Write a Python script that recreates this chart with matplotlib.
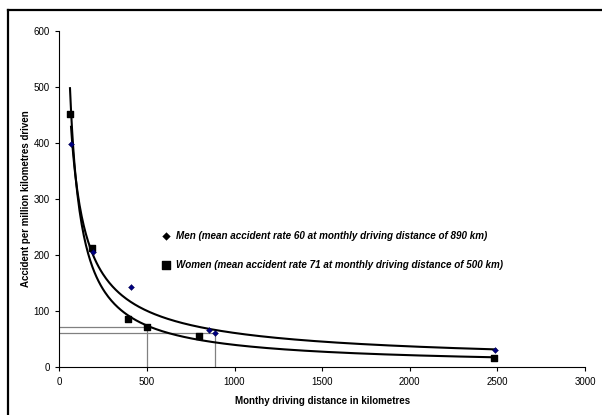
import numpy as np
import matplotlib
matplotlib.use("Agg")
import matplotlib.pyplot as plt
from matplotlib.lines import Line2D

plt.rcParams['font.family'] = ['Liberation Sans', 'DejaVu Sans']

# Monthly driving distance (km) and accident rate per million km driven
men_km = [67, 190, 407, 854, 890, 2489]
men_rate = [397, 205, 143, 65.5, 60, 31]
women_km = [61, 187, 394, 500, 799, 2481]
women_rate = [451, 212, 85, 71, 55, 16]

# Group means: (distance, rate)
men_mean = (890, 60)
women_mean = (500, 71)

men_label = "Men (mean accident rate 60 at monthly driving distance of 890 km)"
women_label = "Women (mean accident rate 71 at monthly driving distance of 500 km)"

x_ticks = [0, 500, 1000, 1500, 2000, 2500, 3000]
y_ticks = [0, 100, 200, 300, 400, 500, 600]


def power_fit(x, y):
    b, ln_a = np.polyfit(np.log(x), np.log(y), 1)
    return np.exp(ln_a), b


fig = plt.figure(figsize=(6.02, 4.15), dpi=100)
ax = fig.add_axes([0.0985, 0.1157, 0.8733, 0.8103])

# outer frame: top and left edges (the rest runs off the canvas)
top = 1 - 10 / 415
left = 7.5 / 602
fig.add_artist(Line2D([left, 1.0], [top, top], transform=fig.transFigure,
                      color='black', lw=1.6, solid_capstyle='projecting'))
fig.add_artist(Line2D([left, left], [0.0, top], transform=fig.transFigure,
                      color='black', lw=1.6, solid_capstyle='projecting'))

# reference lines to the means
gray = '#808080'
for mx, my in (women_mean, men_mean):
    ax.plot([0, mx], [my, my], color=gray, lw=0.9, zorder=1)
    ax.plot([mx, mx], [0, my], color=gray, lw=0.9, zorder=1)

# power trend lines over each series' range
for xs, ys in ((men_km, men_rate), (women_km, women_rate)):
    a, b = power_fit(xs, ys)
    xx = np.linspace(min(xs), max(xs), 400)
    ax.plot(xx, a * xx ** b, color='black', lw=1.5, zorder=2)

ax.scatter(women_km, women_rate, marker='s', s=22, color='black', zorder=3,
           label=women_label)
ax.scatter(men_km, men_rate, marker='D', s=9, color='#000080',
           edgecolor='#000040', linewidth=0.3, zorder=4, label=men_label)

ax.set_xlim(0, 3000)
ax.set_ylim(0, 600)
ax.set_xticks(x_ticks)
ax.set_yticks(y_ticks)
ax.tick_params(labelsize=7, length=3, width=0.8, pad=4, colors='black')
for s in ('top', 'right'):
    ax.spines[s].set_visible(False)
for s in ('left', 'bottom'):
    ax.spines[s].set_linewidth(0.8)

ax.set_xlabel("Monthy driving distance in kilometres", fontsize=7,
              fontweight='bold', labelpad=7)
ax.set_ylabel("Accident per million kilometres driven", fontsize=7,
              fontweight='bold', labelpad=2)

h, l = ax.get_legend_handles_labels()
leg = ax.legend(h[::-1], l[::-1], loc='upper left',
                bbox_to_anchor=(0.183, 0.42), frameon=False,
                prop={'size': 7.1, 'weight': 'bold', 'style': 'italic'},
                labelspacing=1.95, handletextpad=0.4, handlelength=1.2,
                markerscale=1.3, borderpad=0)
leg.legend_handles[0].set_color('black')

fig.savefig("out.png", dpi=100)
